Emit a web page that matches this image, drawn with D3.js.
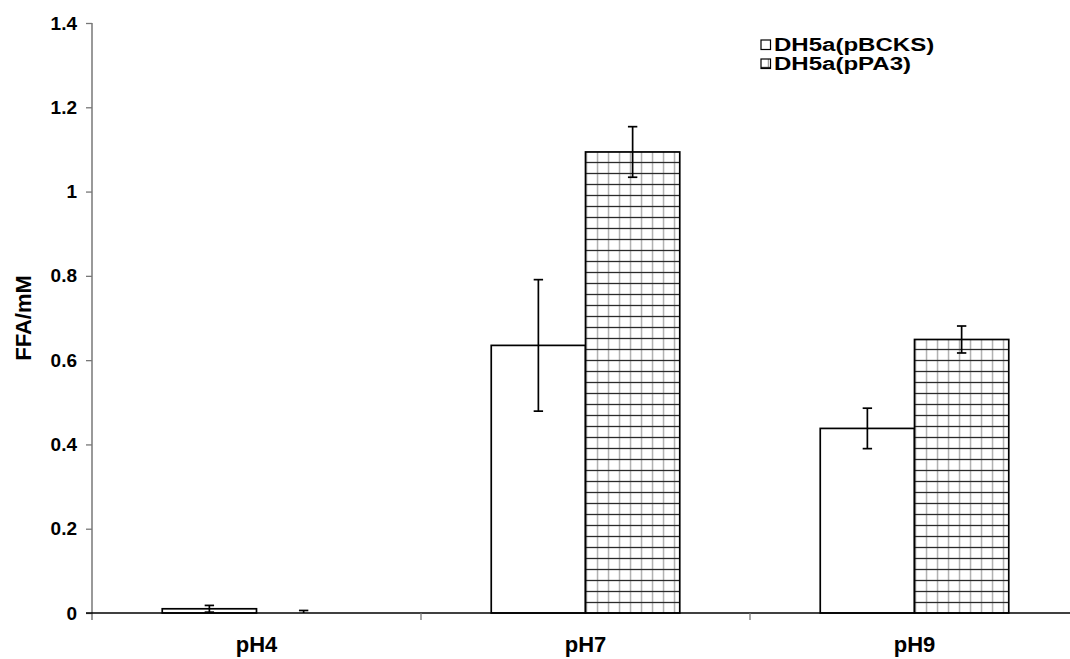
<!DOCTYPE html>
<html>
<head>
<meta charset="utf-8">
<script src="https://cdn.jsdelivr.net/npm/d3@7"></script>
<style>
  html, body { margin: 0; padding: 0; background: #fff; }
  svg { display: block; }
  text { font-family: "Liberation Sans", Arial, sans-serif; font-weight: bold; fill: #000; }
</style>
</head>
<body>
<svg id="chart" width="1070" height="659"></svg>
<script>
// Free fatty acid release at three pH values for two strains
const categories = ["pH4", "pH7", "pH9"];
const seriesNames = ["DH5a(pBCKS)", "DH5a(pPA3)"];
const pBCKSValues = [0.010, 0.635, 0.438];
const pBCKSErrors = [0.008, 0.156, 0.048];
const pPA3Values = [0.000, 1.094, 0.649];
const pPA3Errors = [0.006, 0.060, 0.032];
const yTickValues = [0, 0.2, 0.4, 0.6, 0.8, 1.0, 1.2, 1.4];
const yTickLabels = ["0", "0.2", "0.4", "0.6", "0.8", "1", "1.2", "1.4"];
const yTitle = "FFA/mM";

const svg = d3.select("#chart");

const plot = { left: 92, right: 1079, top: 23, bottom: 613 };

const y = d3.scaleLinear().domain([0, 1.4]).range([plot.bottom, plot.top]);
const x0 = d3.scaleBand().domain(categories)
  .range([plot.left, plot.right])
  .paddingInner(0.427).paddingOuter(0.2135);
const x1 = d3.scaleBand().domain(seriesNames).range([0, x0.bandwidth()]).padding(0);

const rows = categories.map((c, i) => ({
  category: c,
  bars: [
    { series: seriesNames[0], value: pBCKSValues[i], err: pBCKSErrors[i] },
    { series: seriesNames[1], value: pPA3Values[i], err: pPA3Errors[i] }
  ]
}));

// Grid hatch used for the second strain
const defs = svg.append("defs");
const pat = defs.append("pattern")
  .attr("id", "grid")
  .attr("patternUnits", "userSpaceOnUse")
  .attr("width", 11).attr("height", 11);
pat.append("rect").attr("width", 11).attr("height", 11).attr("fill", "#fff");
pat.append("line").attr("x1", 7.3).attr("x2", 7.3).attr("y1", 0).attr("y2", 11)
  .attr("stroke", "#8a8a8a").attr("stroke-width", 1);
pat.append("line").attr("x1", 0).attr("x2", 11).attr("y1", 8.5).attr("y2", 8.5)
  .attr("stroke", "#2a2a2a").attr("stroke-width", 1.3);

const fills = { [seriesNames[0]]: "#fff", [seriesNames[1]]: "url(#grid)" };

// Y axis
const yAxis = d3.axisLeft(y)
  .tickValues(yTickValues)
  .tickFormat((d, i) => yTickLabels[i])
  .tickSize(6)
  .tickPadding(9);
const gy = svg.append("g").attr("transform", `translate(${plot.left},0)`).call(yAxis);
gy.select(".domain").remove();
gy.selectAll(".tick line").attr("stroke", "#777").attr("stroke-width", 1.3);
gy.selectAll(".tick text").style("font-size", "19px").attr("font-family", null);
svg.append("line")
  .attr("x1", plot.left).attr("x2", plot.left)
  .attr("y1", y(1.4)).attr("y2", plot.bottom + 7)
  .attr("stroke", "#777").attr("stroke-width", 1.5);

// Bars
const groups = svg.append("g").selectAll("g")
  .data(rows).join("g")
  .attr("transform", d => `translate(${x0(d.category)},0)`);

groups.selectAll("rect")
  .data(d => d.bars).join("rect")
  .attr("x", d => x1(d.series))
  .attr("y", d => y(d.value))
  .attr("width", x1.bandwidth())
  .attr("height", d => y(0) - y(d.value))
  .attr("fill", d => fills[d.series])
  .attr("stroke", "#000")
  .attr("stroke-width", 1.7);

// Error bars, clipped at the baseline
const capHalf = 4.7;
const eb = groups.selectAll("g.err")
  .data(d => d.bars).join("g").attr("class", "err")
  .attr("stroke", "#000").attr("stroke-width", 1.7);
eb.append("line")
  .attr("x1", d => x1(d.series) + x1.bandwidth() / 2)
  .attr("x2", d => x1(d.series) + x1.bandwidth() / 2)
  .attr("y1", d => y(d.value + d.err))
  .attr("y2", d => Math.min(y(Math.max(d.value - d.err, 0)), plot.bottom));
eb.append("line")
  .attr("x1", d => x1(d.series) + x1.bandwidth() / 2 - capHalf)
  .attr("x2", d => x1(d.series) + x1.bandwidth() / 2 + capHalf)
  .attr("y1", d => y(d.value + d.err))
  .attr("y2", d => y(d.value + d.err));
eb.filter(d => d.value - d.err > 0).append("line")
  .attr("x1", d => x1(d.series) + x1.bandwidth() / 2 - capHalf)
  .attr("x2", d => x1(d.series) + x1.bandwidth() / 2 + capHalf)
  .attr("y1", d => y(d.value - d.err))
  .attr("y2", d => y(d.value - d.err));

// X axis: baseline, category separators and labels
svg.append("line")
  .attr("x1", plot.left - 6).attr("x2", plot.right)
  .attr("y1", y(0)).attr("y2", y(0))
  .attr("stroke", "#000").attr("stroke-width", 1.5);
const step = x0.step();
const bounds = d3.range(categories.length + 1).map(i => plot.left + i * step);
svg.append("g").selectAll("line")
  .data(bounds.slice(1)).join("line")
  .attr("x1", d => d).attr("x2", d => d)
  .attr("y1", y(0)).attr("y2", y(0) + 7)
  .attr("stroke", "#777").attr("stroke-width", 1.3);
svg.append("g").selectAll("text")
  .data(categories).join("text")
  .attr("x", d => x0(d) + x0.bandwidth() / 2)
  .attr("y", 652)
  .attr("text-anchor", "middle")
  .style("font-size", "22px")
  .text(d => d);

// Y axis title
svg.append("text")
  .attr("transform", `translate(31,318) rotate(-90)`)
  .attr("text-anchor", "middle")
  .style("font-size", "22px")
  .text(yTitle);

// Legend (labels set wide, as in the printed figure)
const legend = svg.append("g");
const legendItems = legend.selectAll("g")
  .data(seriesNames).join("g")
  .attr("transform", (d, i) => `translate(761,${40 + i * 19})`);
legendItems.append("rect")
  .attr("width", 9.5).attr("height", 9.5)
  .attr("fill", d => fills[d])
  .attr("stroke", "#000").attr("stroke-width", 1.2);
legendItems.append("text")
  .attr("transform", "translate(13,11) scale(1.3,1)")
  .style("font-size", "18.5px")
  .text(d => d);
</script>
</body>
</html>
